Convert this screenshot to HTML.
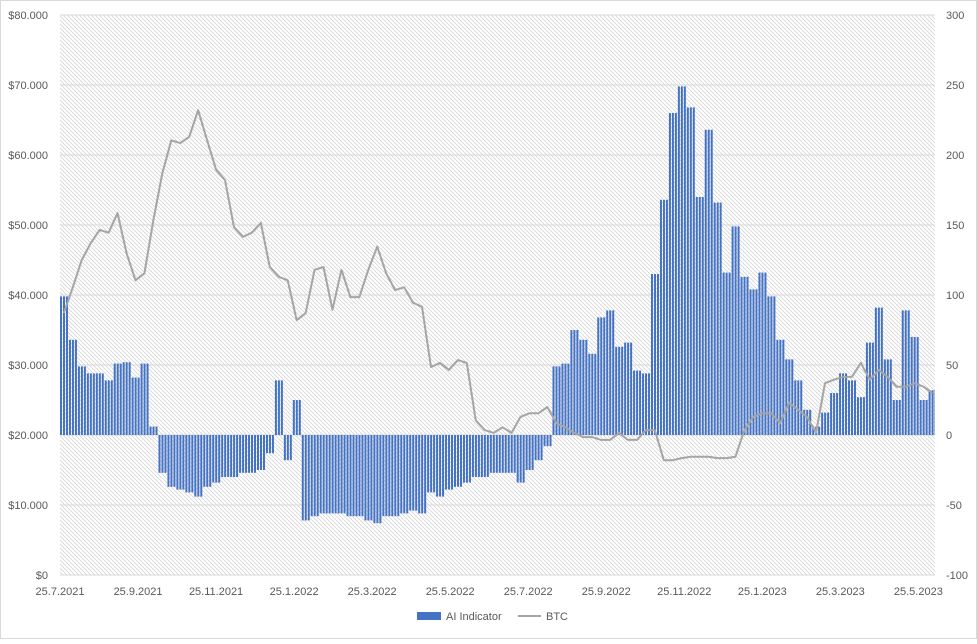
<!DOCTYPE html>
<html><head><meta charset="utf-8"><style>
body{margin:0;background:#fff;font-family:"Liberation Sans",sans-serif;}
svg text{font-family:"Liberation Sans",sans-serif;font-size:11px;fill:#595959;}
</style></head><body>
<svg id="chart" width="977" height="639" xmlns="http://www.w3.org/2000/svg">
<defs><pattern id="hatch" width="4" height="4" patternUnits="userSpaceOnUse"><path d="M-1,-1 L5,5 M-1,3 L1,5 M3,-1 L5,1" stroke="#d4d4d4" stroke-width="0.8"/></pattern></defs>
<rect x="0.5" y="0.5" width="976" height="638" fill="none" stroke="#d9d9d9"/>
<rect x="60" y="15" width="875" height="560" fill="url(#hatch)"/>
<g id="grid"></g><g id="bars"></g><g id="line"></g><g id="axes"></g>
<g>
<rect x="417" y="612" width="24" height="8" fill="#4472C4"/>
<text x="446" y="620">AI Indicator</text>
<line x1="518" y1="616" x2="541" y2="616" stroke="#A5A5A5" stroke-width="2"/>
<text x="546" y="620">BTC</text>
</g>
</svg>
<script>
const xLabels=["25.7.2021","25.9.2021","25.11.2021","25.1.2022","25.3.2022","25.5.2022","25.7.2022","25.9.2022","25.11.2022","25.1.2023","25.3.2023","25.5.2023"];
const leftTicks=[0,10000,20000,30000,40000,50000,60000,70000,80000];
const rightTicks=[-100,-50,0,50,100,150,200,250,300];
const aiValues=[99,68,49,44,44,39,51,52,41,51,6,-27,-37,-39,-41,-44,-37,-34,-30,-30,-27,-27,-25,-13,39,-18,25,-61,-58,-56,-56,-56,-58,-58,-61,-63,-58,-58,-56,-54,-56,-41,-44,-39,-37,-34,-30,-30,-27,-27,-27,-34,-25,-18,-8,49,51,75,68,58,84,89,63,66,46,44,115,168,230,249,234,170,218,166,116,149,113,104,116,99,68,54,39,18,6,16,30,44,39,27,66,91,54,25,89,70,25,32];
const btcValues=[37.4,41.1,45,47.4,49.3,48.9,51.7,46,42.1,43.1,50.7,57.4,62.1,61.7,62.6,66.4,62.1,57.9,56.4,49.7,48.3,48.9,50.3,44,42.6,42.1,36.4,37.4,43.6,44,37.9,43.6,39.7,39.7,43.6,46.9,43.1,40.7,41.1,38.9,38.3,29.7,30.3,29.3,30.7,30.3,22.1,20.7,20.3,21.1,20.3,22.6,23.1,23.1,24,21.7,21.1,20.3,19.7,19.7,19.3,19.3,20.3,19.3,19.3,20.7,20.7,16.4,16.4,16.7,16.9,16.9,16.9,16.7,16.7,16.9,20.7,22.6,23.1,23.1,21.7,24.6,23.6,22.6,20.3,27.4,27.9,28.3,28.3,30.3,27.9,29.3,28.3,26.9,26.9,27.4,26.9,26];
const daysPerPoint=7, totalDays=684;
const X0=60,X1=935,Y0=575,Y1=15;
const xScale=d=>X0+d*(X1-X0)/totalDays;
const yLeft=v=>Y0-(v/80000)*(Y0-Y1);
const yRight=v=>Y0-((v+100)/400)*(Y0-Y1);
const NS="http://www.w3.org/2000/svg";
function mk(tag,attrs,parent,txt){const e=document.createElementNS(NS,tag);for(const k in attrs)e.setAttribute(k,attrs[k]);if(txt!==undefined)e.textContent=txt;document.getElementById(parent).appendChild(e);return e;}
leftTicks.forEach(v=>{
  const g=mk('line',{x1:X0,x2:X1,y1:yLeft(v),y2:yLeft(v),stroke:'#d9d9d9','stroke-width':1},'grid');
  
  
  const t=mk('text',{x:48,y:yLeft(v)+4,'text-anchor':'end'},'axes','$'+(v===0?'0':v.toLocaleString('de-DE')));
  
  
});
rightTicks.forEach(v=>{
  const t=mk('text',{x:946,y:yRight(v)+4},'axes',String(v));
  
  
});
xLabels.forEach((l,i)=>{
  const d=i*61;
  const t=mk('text',{x:xScale(d),y:595,'text-anchor':'middle'},'axes',l);
  
  
});
const bw=(X1-X0)/totalDays*daysPerPoint;
aiValues.forEach((v,i)=>{
  const x=xScale(i*daysPerPoint);
  const y0=yRight(0),y=yRight(v);
  for(let k=0;k<3;k++){
    const bx=x+k*bw/3;
    if(bx>=X1) continue;
    const r=mk('rect',{x:bx,y:Math.min(y,y0),width:Math.min(2,X1-bx),height:Math.abs(y-y0),fill:'#4472C4'},'bars');
    
    
  }
});
const pts=btcValues.map((v,i)=>xScale(i*daysPerPoint+3)+','+yLeft(v*1000)).join(' ');
const p=mk('polyline',{points:pts,fill:'none',stroke:'#A5A5A5','stroke-width':2,'stroke-linejoin':'round'},'line');


</script>
</body></html>
